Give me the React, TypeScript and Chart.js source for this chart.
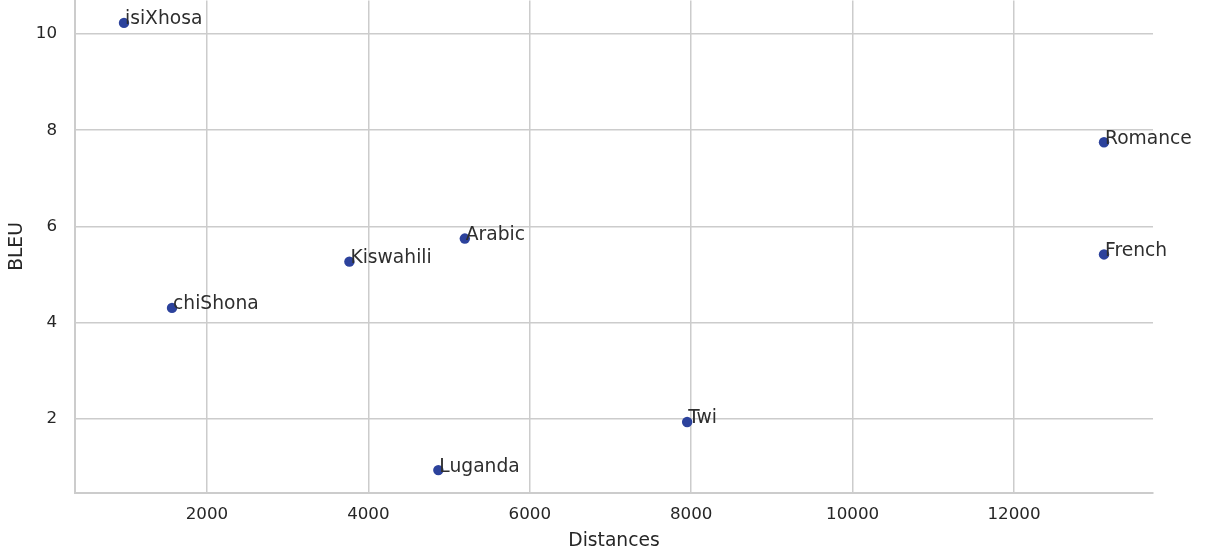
import React, { useEffect, useRef } from "react";
import { Chart, registerables } from "chart.js";

Chart.register(...registerables);

const languages = ["isiXhosa", "chiShona", "Kiswahili", "Arabic", "Luganda", "Twi", "Romance", "French"];
const distances = [972, 1567, 3765, 5195, 4867, 7950, 13115, 13115];
const bleu = [10.23, 4.31, 5.27, 5.75, 0.94, 1.94, 7.75, 5.42];
const xTicks = [2000, 4000, 6000, 8000, 10000, 12000];
const yTicks = [2, 4, 6, 8, 10];

const FONT = "'DejaVu Sans', sans-serif";
const TEXT = "#262626";
const GRID = "#cccccc";
const POINT = "#2c429c";

const labelPlugin = {
  id: "pointLabels",
  afterDatasetsDraw(chart: any) {
    const ctx = chart.ctx;
    const meta = chart.getDatasetMeta(0);
    ctx.save();
    ctx.font = `18.7px ${FONT}`;
    ctx.fillStyle = "#2e2e2e";
    ctx.textAlign = "left";
    ctx.textBaseline = "alphabetic";
    meta.data.forEach((pt: any, i: number) => {
      ctx.fillText(languages[i], pt.x + 1, pt.y + 1.5);
    });
    ctx.restore();
  },
};

const zeroPad = (s: any) => {
  s.paddingTop = 0;
  s.paddingBottom = 0;
  s.paddingLeft = 0;
  s.paddingRight = 0;
};

export default function App() {
  const ref = useRef<HTMLCanvasElement>(null);
  useEffect(() => {
    document.body.style.margin = "0";
    const chart = new Chart(ref.current!, {
      type: "scatter",
      data: {
        datasets: [
          {
            data: distances.map((d, i) => ({ x: d, y: bleu[i] })),
            backgroundColor: POINT,
            borderColor: POINT,
            borderWidth: 0,
            pointRadius: 5.2,
          },
        ],
      },
      options: {
        animation: false,
        responsive: false,
        devicePixelRatio: 1,
        layout: { autoPadding: false, padding: { top: 0.5, right: 57, left: 0, bottom: 0 } },
        plugins: { legend: { display: false }, tooltip: { enabled: false } },
        scales: {
          x: {
            type: "linear",
            min: 365,
            max: 13722,
            afterBuildTicks: (s: any) => {
              s.ticks = xTicks.map((v) => ({ value: v }));
            },
            afterFit: (s: any) => {
              s.height = 63.5;
              zeroPad(s);
            },
            ticks: {
              color: TEXT,
              font: { family: FONT, size: 16.7 },
              padding: 12,
              maxRotation: 0,
              autoSkip: false,
              callback: (v: any) => String(v),
            },
            grid: { color: GRID, lineWidth: 1.5, drawTicks: false },
            border: { display: true, color: GRID, width: 2 },
            title: {
              display: true,
              text: "Distances",
              color: TEXT,
              font: { family: FONT, size: 18.7 },
              padding: { top: 0, bottom: 4 },
            },
          },
          y: {
            type: "linear",
            min: 0.475,
            max: 10.695,
            afterBuildTicks: (s: any) => {
              s.ticks = yTicks.map((v) => ({ value: v }));
            },
            afterFit: (s: any) => {
              s.width = 75;
              zeroPad(s);
            },
            ticks: {
              color: TEXT,
              font: { family: FONT, size: 16.7 },
              padding: 18,
              autoSkip: false,
              callback: (v: any) => String(v),
            },
            grid: { color: GRID, lineWidth: 1.5, drawTicks: false },
            border: { display: true, color: GRID, width: 2 },
            title: {
              display: true,
              text: "BLEU",
              color: TEXT,
              font: { family: FONT, size: 18.7 },
              padding: { top: 6, bottom: 0 },
            },
          },
        },
      },
      plugins: [labelPlugin],
    });
    return () => chart.destroy();
  }, []);
  return <canvas ref={ref} width={1210} height={556} style={{ display: "block" }} />;
}
